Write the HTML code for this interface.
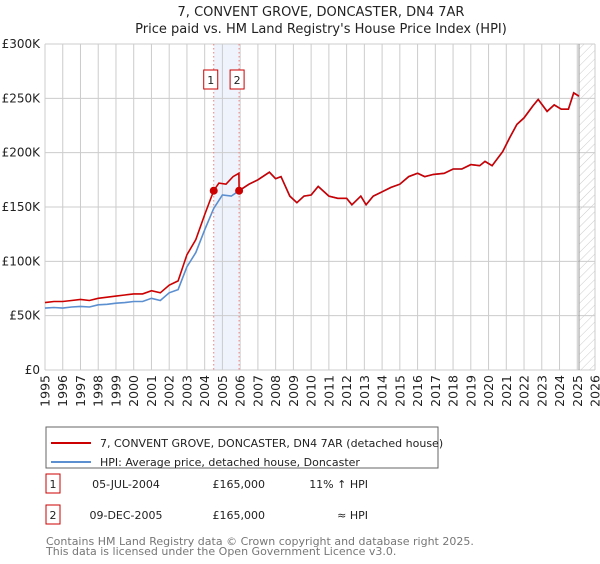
<!DOCTYPE html>
<html><head><meta charset="utf-8"><style>
body{margin:0;background:#fff;font-family:"DejaVu Sans","Liberation Sans",sans-serif;}
svg text{font-family:"DejaVu Sans","Liberation Sans",sans-serif;}
</style></head><body>
<svg id="c" width="600" height="560" xmlns="http://www.w3.org/2000/svg">
<defs><pattern id="hatch" width="6" height="6" patternUnits="userSpaceOnUse" patternTransform="rotate(45)"><line x1="0" y1="0" x2="0" y2="6" stroke="#ccc" stroke-width="1"/></pattern></defs>
<text x="321" y="16" text-anchor="middle" font-size="13" fill="#222">7, CONVENT GROVE, DONCASTER, DN4 7AR</text>
<text x="321" y="33" text-anchor="middle" font-size="13" fill="#222">Price paid vs. HM Land Registry's House Price Index (HPI)</text>
<g id="grid"></g><g id="marks"></g>
<rect x="46" y="427" width="392" height="41" fill="#fff" stroke="#666"/>
<line x1="51" y1="443" x2="91" y2="443" stroke="#cc0000" stroke-width="2"/>
<text x="100" y="447" font-size="11" fill="#222">7, CONVENT GROVE, DONCASTER, DN4 7AR (detached house)</text>
<line x1="51" y1="462" x2="91" y2="462" stroke="#5b8fd0" stroke-width="2"/>
<text x="100" y="466" font-size="11" fill="#222">HPI: Average price, detached house, Doncaster</text>
<g font-size="11" fill="#222">
<rect x="46" y="474" width="14" height="19" fill="#fff" stroke="#cc0000"/>
<text x="53" y="488" text-anchor="middle">1</text>
<text x="126" y="488" text-anchor="middle">05-JUL-2004</text>
<text x="265" y="488" text-anchor="end">£165,000</text>
<text x="368" y="488" text-anchor="end">11% ↑ HPI</text>
<rect x="46" y="505" width="14" height="19" fill="#fff" stroke="#cc0000"/>
<text x="53" y="519" text-anchor="middle">2</text>
<text x="126" y="519" text-anchor="middle">09-DEC-2005</text>
<text x="265" y="519" text-anchor="end">£165,000</text>
<text x="368" y="519" text-anchor="end">≈ HPI</text>
</g>
<text x="46" y="545" font-size="11" fill="#777">Contains HM Land Registry data © Crown copyright and database right 2025.</text>
<text x="46" y="555" font-size="11" fill="#777">This data is licensed under the Open Government Licence v3.0.</text>
</svg>
<script>
const yearTicks=[1995,1996,1997,1998,1999,2000,2001,2002,2003,2004,2005,2006,2007,2008,2009,2010,2011,2012,2013,2014,2015,2016,2017,2018,2019,2020,2021,2022,2023,2024,2025,2026];
const valueTicks=[0,50,100,150,200,250,300];
const valueLabels=["£0","£50K","£100K","£150K","£200K","£250K","£300K"];
const hpiDates=[1995,1995.5,1996,1996.5,1997,1997.5,1998,1998.5,1999,1999.5,2000,2000.5,2001,2001.5,2002,2002.5,2003,2003.5,2004,2004.51,2005,2005.5,2005.94,2006.5,2007,2007.65,2008,2008.3,2008.8,2009.2,2009.6,2010,2010.4,2011,2011.5,2012,2012.3,2012.8,2013.1,2013.5,2014,2014.5,2015,2015.5,2016,2016.4,2016.9,2017.5,2018,2018.5,2019,2019.5,2019.8,2020.2,2020.8,2021.2,2021.6,2022,2022.5,2022.8,2023.3,2023.7,2024.1,2024.5,2024.8,2025.1];
const hpiValues=[57,57.5,57,58,58.5,58,60,60.5,61.5,62,63,63,66,64,71,74,95,108,129,148.6,161,160,165,171,175,182,176,178,160,154,160,161,169,160,158,158,152,160,152,160,164,168,171,178,181,178,180,181,185,185,189,188,192,188,201,214,226,232,243,249,238,244,240,240,255,252];
const redPreDates=[1995,1995.5,1996,1996.5,1997,1997.5,1998,1998.5,1999,1999.5,2000,2000.5,2001,2001.5,2002,2002.5,2003,2003.5,2004,2004.51,2004.8,2005.2,2005.6,2005.93];
const redPreValues=[62,63,63,64,65,64,66,67,68,69,70,70,73,71,78,82,106,120,143,165,172,171,178,181];
const sales=[{d:2004.51,v:165},{d:2005.94,v:165}];
const x0=45,x1=595,y0=370,y1=44;
const X=d=>x0+(d-1995)/(2026-1995)*(x1-x0);
const Y=v=>y0-(v/300)*(y0-y1);
const NS="http://www.w3.org/2000/svg";
function mk(p,tag,at){const e=document.createElementNS(NS,tag);for(const k in at)e.setAttribute(k,at[k]);p.appendChild(e);return e;}
const grid=document.getElementById('grid'),marks=document.getElementById('marks');
let e=mk(grid,'rect',{x:X(sales[0].d),y:y1,width:X(sales[1].d)-X(sales[0].d),height:y0-y1,fill:'#eef3fc'});


e=mk(grid,'rect',{x:X(2025.1),y:y1,width:x1-X(2025.1),height:y0-y1,fill:'url(#hatch)'});


yearTicks.forEach(t=>{
 const l=mk(grid,'line',{x1:X(t),x2:X(t),y1:y1,y2:y0,stroke:'#ccc','stroke-width':1});
 
 
 const tx=mk(grid,'text',{x:0,y:0,'font-size':12.5,fill:'#222','text-anchor':'end',transform:`translate(${X(t)+4.5},${y0+5}) rotate(-90)`});
 tx.textContent=t;
 
 
});
valueTicks.forEach((v,i)=>{
 const l=mk(grid,'line',{x1:x0,x2:x1,y1:Y(v),y2:Y(v),stroke:'#ccc','stroke-width':1});
 
 
 const tx=mk(grid,'text',{x:40,y:Y(v)+4,'font-size':12,fill:'#222','text-anchor':'end'});
 tx.textContent=valueLabels[i];
 
 
});
e=mk(grid,'line',{x1:X(2025.1),x2:X(2025.1),y1:y1,y2:y0,stroke:'#999','stroke-width':1});


sales.forEach((s,i)=>{
 const l=mk(grid,'line',{x1:X(s.d),x2:X(s.d),y1:y1,y2:y0,stroke:'#f08080','stroke-width':1,'stroke-dasharray':'1.5,2.5'});
 
 
});
const hp=hpiDates.map((d,i)=>X(d).toFixed(1)+','+Y(hpiValues[i]).toFixed(1)).join(' ');
e=mk(marks,'polyline',{points:hp,fill:'none',stroke:'#5b8fd0','stroke-width':1.6});


let rp=redPreDates.map((d,i)=>X(d).toFixed(1)+','+Y(redPreValues[i]).toFixed(1));
hpiDates.forEach((d,i)=>{if(d>=sales[1].d)rp.push(X(d).toFixed(1)+','+Y(hpiValues[i]).toFixed(1));});
e=mk(marks,'polyline',{points:rp.join(' '),fill:'none',stroke:'#cc0000','stroke-width':1.6});


sales.forEach((s,i)=>{
 const c=mk(marks,'circle',{cx:X(s.d),cy:Y(s.v),r:4,fill:'#cc0000'});
 
 
 const r=mk(marks,'rect',{x:X(s.d)-(i==0?10:9),y:70,width:14,height:19,fill:'#fff',stroke:'#cc0000'});
 
 
 const t=mk(marks,'text',{x:X(s.d)-(i==0?3:2),y:84,'font-size':11,fill:'#222','text-anchor':'middle'});
 t.textContent=String(i+1);
 
 
});
</script>
</body></html>
